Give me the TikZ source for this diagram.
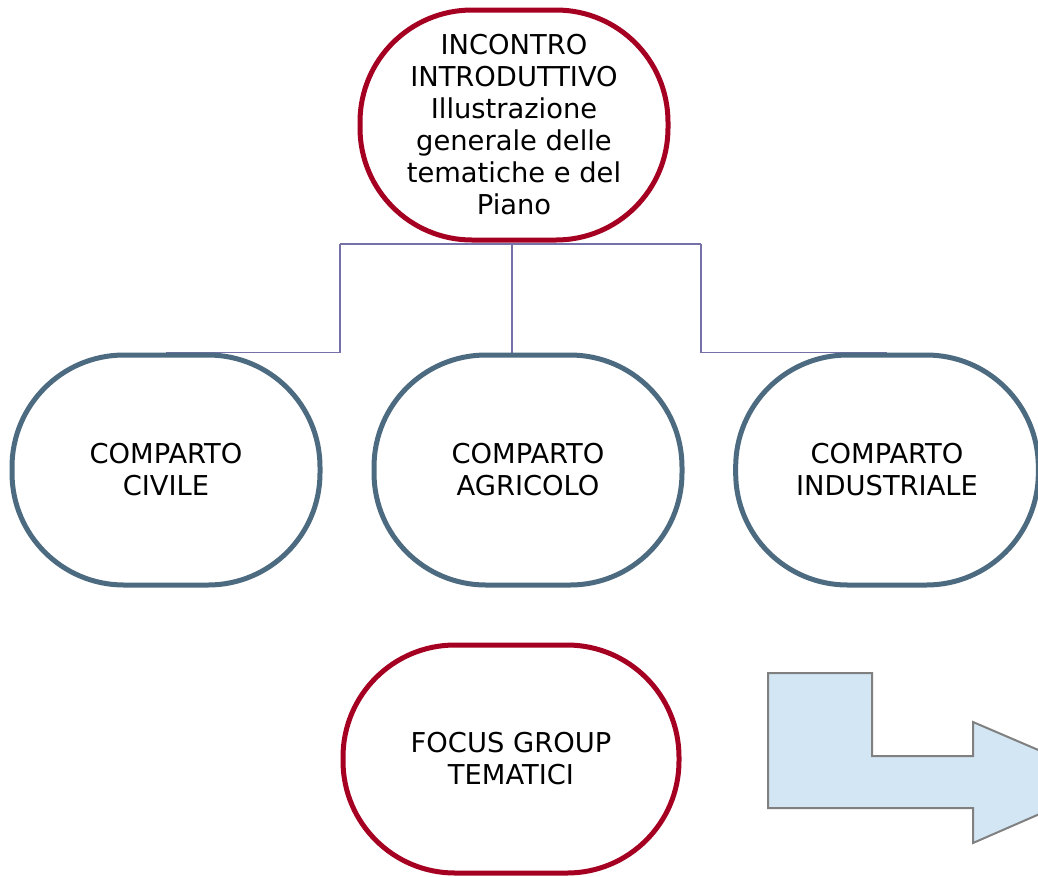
\documentclass[tikz,border=0pt]{standalone}
\usepackage{fontspec}
\setmainfont{DejaVu Sans}
\usetikzlibrary{backgrounds}
\definecolor{bordored}{HTML}{A50021}
\definecolor{bordoblu}{HTML}{4C6A80}
\definecolor{linea}{HTML}{7670A8}
\definecolor{freccia}{HTML}{D2E6F3}
\begin{document}
\begin{tikzpicture}[x=0.75pt,y=-0.75pt,
    fase/.style={draw=bordored,line width=3.75pt,rounded corners=84pt,fill=white,
      minimum width=231pt,minimum height=172.5pt,align=center,
      font=\fontsize{20.5pt}{24pt}\selectfont,inner sep=2pt},
    comparto/.style={fase,draw=bordoblu},
    link/.style={draw=linea,line width=1pt}]
        \useasboundingbox (0,0) rectangle (1038,876);
        \clip (0,0) rectangle (1038,876);
        \node[fase] (intro) at (514,125) {INCONTRO\\INTRODUTTIVO\\Illustrazione\\generale delle\\tematiche e del\\Piano};
        \node[comparto] (civ) at (166,470) {COMPARTO\\CIVILE};
        \node[comparto] (agr) at (528,470) {COMPARTO\\AGRICOLO};
        \node[comparto,minimum width=227pt] (ind) at (887,470) {COMPARTO\\INDUSTRIALE};
        \node[fase,minimum width=252pt,minimum height=171pt] (focus) at (511,759) {FOCUS GROUP\\TEMATICI};
        \coordinate (busL) at (340,244);
        \coordinate (busR) at (701,244);
        \begin{scope}[on background layer]
          \draw[link] (busL) -- (busR);
          \draw[link] (busL) |- (civ.north);
          \draw[link] (busR) |- (ind.north);
          \draw[link] (intro.south -| 512,0) -- (agr.north -| 512,0);
        \end{scope}
        % freccia piegata
        \draw[draw=gray,fill=freccia,line width=1.5pt] (768,673) -- (872,673) -- (872,756) -- (973,756)
          -- (973,722) -- (1113,782) -- (973,843) -- (973,808) -- (768,808) -- cycle;
      \end{tikzpicture}
\end{document}
